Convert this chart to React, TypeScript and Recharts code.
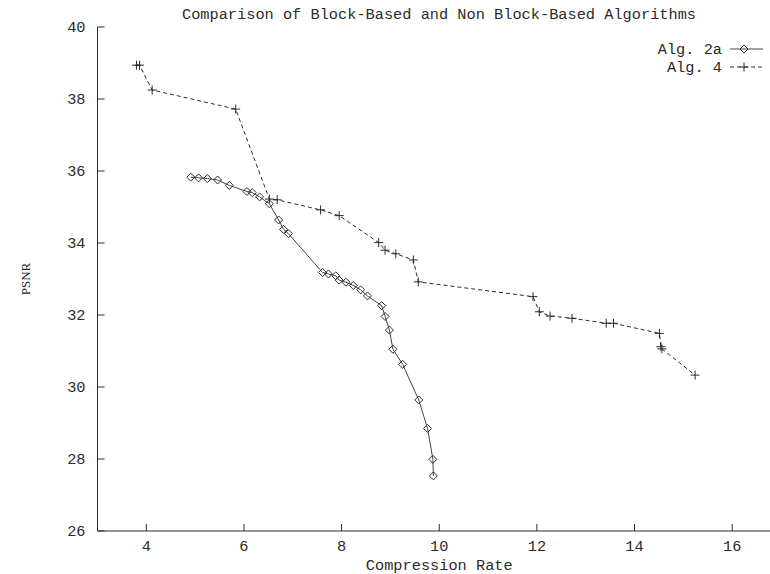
import React from "react";
import { LineChart, Line, XAxis, YAxis, Label } from "recharts";

// compression rate / PSNR pairs
const alg2aRate = [4.91, 5.07, 5.25, 5.46, 5.7, 6.06, 6.17, 6.32, 6.52, 6.71, 6.81, 6.91, 7.61, 7.73, 7.88, 7.95, 8.09, 8.24, 8.39, 8.53, 8.82, 8.89, 8.98, 9.05, 9.25, 9.58, 9.76, 9.87, 9.88];
const alg2aPsnr = [35.83, 35.81, 35.79, 35.75, 35.6, 35.43, 35.4, 35.28, 35.09, 34.64, 34.38, 34.26, 33.18, 33.14, 33.09, 32.97, 32.91, 32.82, 32.7, 32.53, 32.26, 31.96, 31.58, 31.05, 30.63, 29.64, 28.85, 27.99, 27.53];

const alg4Rate = [3.8, 3.86, 4.12, 5.83, 6.52, 6.68, 7.57, 7.95, 8.76, 8.89, 9.11, 9.47, 9.57, 11.92, 12.05, 12.27, 12.72, 13.42, 13.57, 14.51, 14.54, 14.56, 15.24];
const alg4Psnr = [38.94, 38.94, 38.25, 37.72, 35.22, 35.2, 34.92, 34.76, 34.01, 33.8, 33.7, 33.53, 32.92, 32.51, 32.09, 31.97, 31.91, 31.77, 31.77, 31.49, 31.12, 31.06, 30.33];

const xTicks = [4, 6, 8, 10, 12, 14, 16];
const yTicks = [26, 28, 30, 32, 34, 36, 38, 40];

const alg2a = alg2aRate.map((rate, i) => ({ rate, psnr: alg2aPsnr[i] }));
const alg4 = alg4Rate.map((rate, i) => ({ rate, psnr: alg4Psnr[i] }));

const INK = "#2b2b2b";
const MONO = "'Liberation Mono', 'DejaVu Sans Mono', monospace";
const FS = 15.3;

const Diamond = ({ cx, cy, index }: any) => (
  <polygon
    key={`d-${index}`}
    points={`${cx},${cy - 4} ${cx + 4},${cy} ${cx},${cy + 4} ${cx - 4},${cy}`}
    fill="none"
    stroke={INK}
    strokeWidth={1}
  />
);

const Plus = ({ cx, cy, index }: any) => (
  <g key={`p-${index}`} stroke={INK} strokeWidth={1}>
    <line x1={cx - 4.5} x2={cx + 4.5} y1={cy} y2={cy} />
    <line x1={cx} x2={cx} y1={cy - 4.5} y2={cy + 4.5} />
  </g>
);

const BottomTick = ({ x, y, payload }: any) => (
  <g>
    <line x1={x} x2={x} y1={y} y2={y - 7} stroke={INK} />
    <text x={x} y={y + 20} textAnchor="middle" fontFamily={MONO} fontSize={FS} fill={INK}>
      {payload.value}
    </text>
  </g>
);

const TopTick = ({ x, y }: any) => (
  <line x1={x} x2={x} y1={y} y2={y + 7} stroke={INK} />
);

const LeftTick = ({ x, y, payload }: any) => (
  <g>
    <line x1={x} x2={x + 7} y1={y} y2={y} stroke={INK} />
    <text x={x - 12} y={y + 5} textAnchor="end" fontFamily={MONO} fontSize={FS} fill={INK}>
      {payload.value}
    </text>
  </g>
);

export default function App() {
  return (
    <div style={{ position: "fixed", left: 0, top: 0, width: 770, height: 574, overflow: "hidden", background: "#fff" }}>
      <LineChart width={790} height={574} margin={{ top: 27, right: 9, bottom: 0, left: 0 }}>
        <XAxis
          xAxisId={0}
          type="number"
          dataKey="rate"
          domain={[3, 17]}
          ticks={xTicks}
          height={43}
          tickSize={0}
          tickMargin={0}
          tickLine={false}
          axisLine={{ stroke: INK }}
          tick={<BottomTick />}
        >
          <Label
            value="Compression Rate"
            position="insideBottom"
            offset={4}
            style={{ fontFamily: MONO, fontSize: FS, fill: INK }}
          />
        </XAxis>
        <XAxis
          xAxisId="top"
          orientation="top"
          type="number"
          dataKey="rate"
          domain={[3, 17]}
          ticks={xTicks}
          height={0}
          tickSize={0}
          tickMargin={0}
          tickLine={false}
          axisLine={{ stroke: INK }}
          tick={<TopTick />}
        />
        <YAxis
          type="number"
          dataKey="psnr"
          domain={[26, 40]}
          ticks={yTicks}
          width={97.5}
          tickSize={0}
          tickMargin={0}
          tickLine={false}
          axisLine={{ stroke: INK }}
          tick={<LeftTick />}
        />
        <Line
          data={alg2a}
          dataKey="psnr"
          name="Alg. 2a"
          stroke="#444"
          strokeWidth={1}
          dot={Diamond}
          isAnimationActive={false}
        />
        <Line
          data={alg4}
          dataKey="psnr"
          name="Alg. 4"
          stroke={INK}
          strokeWidth={1}
          strokeDasharray="4 3"
          dot={Plus}
          isAnimationActive={false}
        />
      </LineChart>
      <svg width={790} height={574} style={{ position: "absolute", left: 0, top: 0, pointerEvents: "none" }}>
        <text x={439} y={19} textAnchor="middle" fontFamily={MONO} fontSize={FS} fill={INK}>
          Comparison of Block-Based and Non Block-Based Algorithms
        </text>
        <text
          x={25}
          y={279}
          transform="rotate(-90 25 279)"
          textAnchor="middle"
          dominantBaseline="central"
          fontFamily="'Liberation Serif', serif"
          fontSize={13}
          fill={INK}
        >
          PSNR
        </text>
        <g fontFamily={MONO} fontSize={FS} fill={INK}>
          <text x={722} y={54} textAnchor="end">Alg. 2a</text>
          <text x={722} y={72} textAnchor="end">Alg. 4</text>
        </g>
        <line x1={730} x2={763} y1={49} y2={49} stroke="#444" />
        <Diamond cx={744} cy={49} index="legend" />
        <line x1={730} x2={763} y1={67} y2={67} stroke={INK} strokeDasharray="4 3" />
        <Plus cx={744} cy={67} index="legend" />
      </svg>
    </div>
  );
}
